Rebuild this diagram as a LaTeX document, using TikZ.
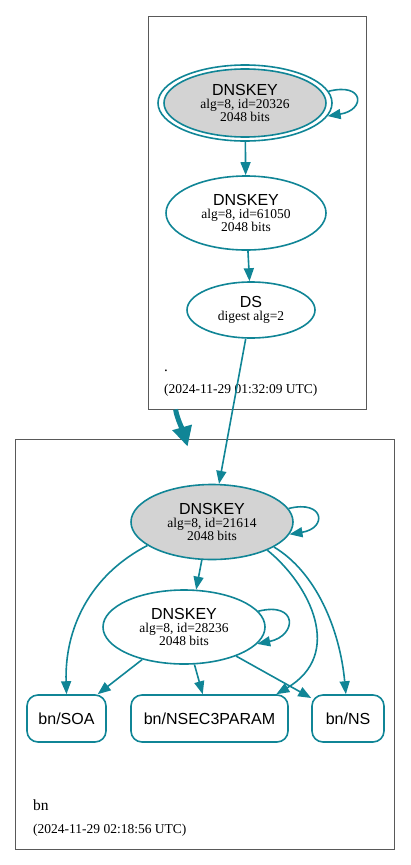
\documentclass[tikz,border=0pt]{standalone}
\usepackage{fontspec}
\setmainfont{Liberation Serif}
\newfontfamily\labelfont{Liberation Sans}
\usetikzlibrary{arrows.meta,shapes.geometric,calc}
\definecolor{tealc}{RGB}{16,133,150}
\definecolor{keygray}{RGB}{211,211,211}
\newcommand{\keytitle}[1]{{\labelfont\fontsize{16}{13}\selectfont #1}}
\begin{document}
\begin{tikzpicture}[x=1pt,y=-1pt,
  edge/.style={draw=tealc, line width=1.6pt, -{Triangle[length=13pt,width=10pt]}},
  bigedge/.style={draw=tealc, line width=5pt, -{Triangle[length=20pt,width=19pt]}},
  keynode/.style={ellipse, draw=tealc, line width=1.6pt, inner sep=0pt, align=center,
    font=\fontsize{13.5}{13}\selectfont},
  rrnode/.style={rectangle, rounded corners=11pt, draw=tealc, line width=1.6pt, inner sep=0pt,
    minimum height=47pt, font=\labelfont\fontsize{16}{18}\selectfont},
  cluster/.style={rectangle, draw=black!65, line width=0.8pt, inner sep=0pt},
  clabel/.style={anchor=base west, inner sep=0pt},
]
\useasboundingbox (0,0) rectangle (411,865);
% clusters
\node[cluster, minimum width=218pt, minimum height=393pt] (topc) at (257,212.5) {};
\node[cluster, minimum width=379pt, minimum height=410pt] (botc) at (204.5,644) {};
% top cluster labels
\node[clabel, font=\fontsize{15}{16}\selectfont] (tdot) at (164,371) {.};
\node[clabel, font=\fontsize{13.5}{15}\selectfont] (tdate) at (164,393) {(2024-11-29 01:32:09 UTC)};
% bottom cluster labels
\node[clabel, font=\fontsize{15.5}{16}\selectfont] (bname) at (33,810) {bn};
\node[clabel, font=\fontsize{13.5}{15}\selectfont] (bdate) at (33,833) {(2024-11-29 02:18:56 UTC)};
% top keys
\node[keynode, minimum width=174pt, minimum height=76pt] (n1) at (245,103) {};
\node[keynode, fill=keygray, minimum width=162pt, minimum height=68pt] (n1i) at (245,103)
  {\keytitle{DNSKEY}\\alg=8, id=20326\\2048 bits};
\node[keynode, minimum width=160pt, minimum height=74pt] (n2) at (246,213)
  {\keytitle{DNSKEY}\\alg=8, id=61050\\2048 bits};
\node[keynode, minimum width=128pt, minimum height=56pt] (ds) at (251,310)
  {\keytitle{DS}\\digest alg=2};
% bottom keys
\node[keynode, fill=keygray, minimum width=162pt, minimum height=75pt] (n3) at (212,522)
  {\keytitle{DNSKEY}\\alg=8, id=21614\\2048 bits};
\node[keynode, minimum width=162pt, minimum height=74pt] (n4) at (184,627)
  {\keytitle{DNSKEY}\\alg=8, id=28236\\2048 bits};
% records
\node[rrnode, minimum width=79pt] (soa) at (66.5,718.5) {bn/SOA};
\node[rrnode, minimum width=157pt] (nsec) at (209.5,718.5) {bn/NSEC3PARAM};
\node[rrnode, minimum width=72pt] (ns) at (348,718.5) {bn/NS};
% edges top
\draw[edge] (n1.8) .. controls +(36,-9) and +(38,-6) .. (n1.-9);
\draw[edge] (n1) -- (n2);
\draw[edge] (n2) -- (ds);
\draw[edge] (ds) -- (n3);
% cluster-to-cluster
\coordinate (tout) at ($(topc.south west)+(28,0)$);
\coordinate (bin) at ($(botc.north west)+(173,8)$);
\draw[bigedge] (tout) .. controls +(1,8) and +(-4,-14) .. (bin);
% edges bottom
\draw[edge] (n3.10) .. controls +(36,-9) and +(38,-6) .. (n3.-9);
\draw[edge] (n3.-105) -- (n4.72);
\draw[edge] (n4.12) .. controls +(40,-10) and +(40,-8) .. (n4.-13);
\draw[edge] (n3.-160) .. controls +(-58,30) and +(-2,-65) .. (soa.north);
\draw[edge] (n4) -- (soa);
\draw[edge] (n4) -- (nsec);
\draw[edge] (n4) -- (ns);
\draw[edge] (n3.-27) .. controls +(43,35) and +(68,-40) .. (nsec.20.6);
\draw[edge] (n3.-22) .. controls +(42,25) and +(-6,-65) .. (ns.95);
\end{tikzpicture}
\end{document}
